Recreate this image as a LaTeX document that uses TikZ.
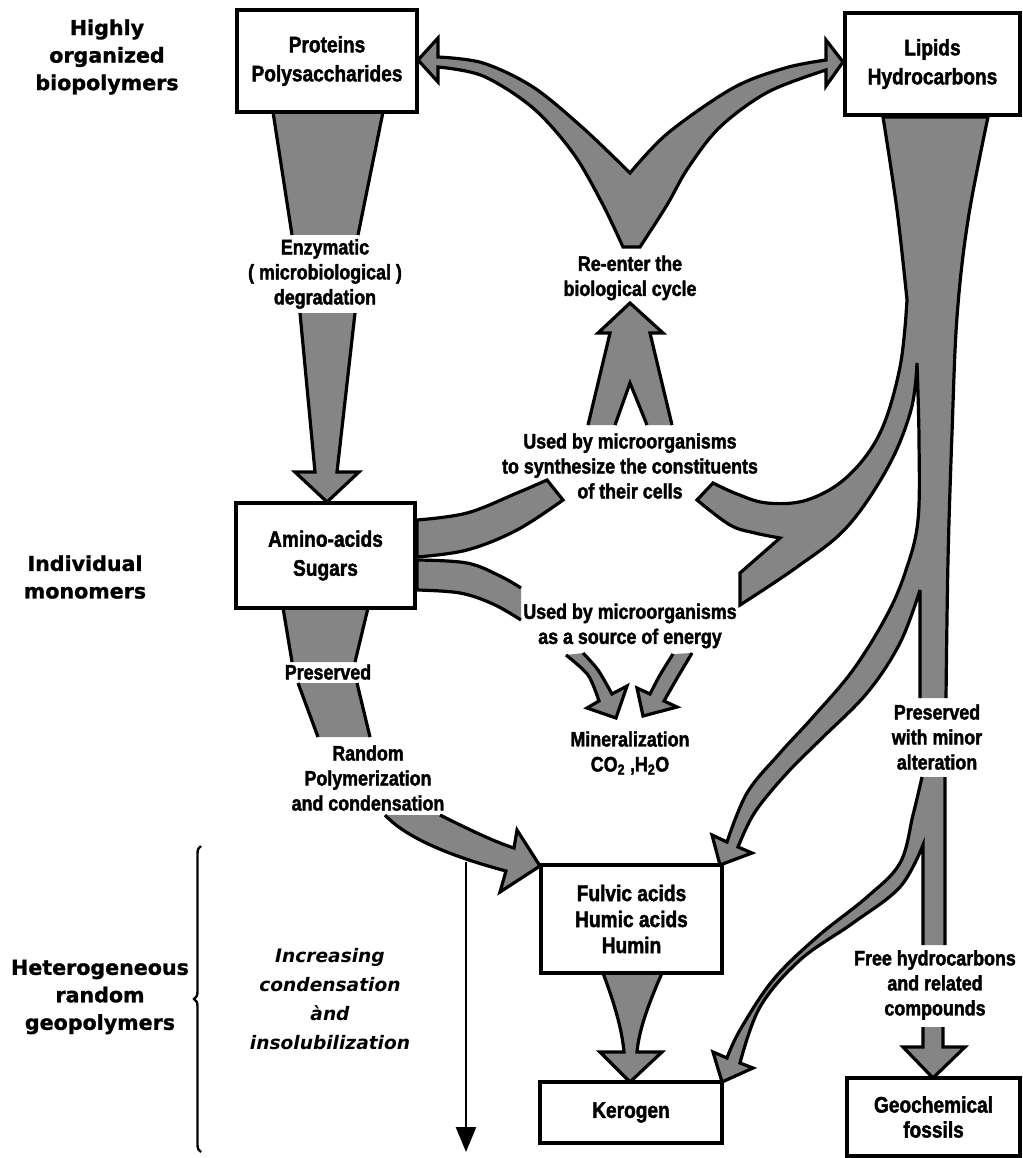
\documentclass[tikz,border=0pt]{standalone}
\usepackage{fontspec}
\setmainfont{Liberation Sans}
\newfontfamily\condf{Liberation Sans Bold}[FakeStretch=0.85, FakeBold=1.8]
\newfontfamily\widef{DejaVu Sans Bold}[FakeBold=1.2]
\newfontfamily\italf{DejaVu Sans Bold Oblique}
\usetikzlibrary{decorations.pathreplacing,arrows.meta}
\tikzset{
 bandfill/.style={fill=black!48},
 bandline/.style={draw=black, line width=3.2pt, line join=miter, miter limit=6},
 band/.style={bandfill, bandline},
 box/.style={draw=black, line width=4.5pt, fill=white, align=center, inner sep=0pt,
   font=\condf\fontsize{22.5}{29}\selectfont},
 lab/.style={align=center, inner sep=0pt, font=\condf\fontsize{21}{25}\selectfont},
 head/.style={align=center, inner sep=0pt, font=\widef\fontsize{20.6}{27.5}\selectfont},
 ital/.style={align=center, inner sep=0pt, font=\italf\fontsize{18.6}{29}\selectfont},
}
\begin{document}
\begin{tikzpicture}[x=1pt,y=-1pt]
\useasboundingbox (0,0) rectangle (1022,1158);
\fill[white] (0,0) rectangle (1022,1158);

% Proteins -> Amino-acids
\draw[band] (292,235) -- (273,112) -- (383,112) -- (358,235);
\draw[band] (300,313) -- (315,472) -- (295,472) -- (327,502) -- (359,472) -- (337,472) -- (355,313);

% Re-enter the biological cycle (V double arrow)
\draw[band] plot[smooth,tension=0.55] coordinates {(623,247)(602,203)(573,153)(533,108)(483,76)(438,67)}
  -- (438,82) -- (418,60) -- (438,38)
  -- plot[smooth,tension=0.55] coordinates {(438,57)(483,63)(533,87)(583,128)(630,173)}
  -- plot[smooth,tension=0.55] coordinates {(630,173)(668,133)(733,88)(785,68)(826,60)}
  -- (826,40) -- (843,62) -- (826,86)
  -- plot[smooth,tension=0.55] coordinates {(826,70)(768,92)(720,127)(688,168)(667,205)(640,247)} -- cycle;

% upward arrow to Re-enter
\fill[bandfill] (588,425) -- (610,333) -- (598,333) -- (630,303) -- (663,333) -- (650,333) -- (672,425)
  -- (647,425) -- (630,383) -- (615,425) -- cycle;
\draw[bandline] (588,425) -- (610,333) -- (598,333) -- (630,303) -- (663,333) -- (650,333) -- (672,425)
  (647,425) -- (630,383) -- (615,425);

% Amino-acids upper band (synthesize)
\draw[band] plot[smooth,tension=0.6] coordinates {(417,520)(467,513)(517,493)(547,480)} -- (563,500)
  -- plot[smooth,tension=0.6] coordinates {(563,500)(517,530)(467,550)(417,557)} -- cycle;
% Amino-acids lower band (energy)
\draw[band] (521,620) -- plot[smooth,tension=0.6] coordinates {(521,620)(493,604)(460,593)(417,590)}
  -- plot[smooth,tension=0.6] coordinates {(417,560)(467,563)(500,576)(521,588)};

% Mineralization arrows
\draw[band] plot[smooth] coordinates {(566,655)(588,675)(599,701)} -- (587,708) -- (616,718) -- (627,686) -- (612,694)
  -- plot[smooth] coordinates {(612,694)(598,670)(583,653)};
\draw[band] plot[smooth] coordinates {(692,653)(676,680)(664,701)} -- (677,707) -- (643,716) -- (637,688) -- (650,694)
  -- plot[smooth] coordinates {(650,694)(660,675)(673,654)};

% Preserved (amino-acids downward)
\draw[band] (292,662) -- (283,608) -- (368,608) -- (355,662);
\fill[bandfill] (298,683) -- (357,683) -- (370,737) -- (318,737) -- cycle;
\draw[bandline] (298,683) -- (318,737) (357,683) -- (370,737);

% Random polymerization -> Fulvic
\draw[band] (440,815) .. controls (470,830) and (495,842) .. (514,848) -- (517,830) -- (540,866) -- (500,892)
  -- (506,871) .. controls (465,860) and (410,842) .. (385,815);

% Fulvic -> Kerogen
\draw[band] (603,973) .. controls (615,1005) and (622,1030) .. (624,1052) -- (600,1052) -- (630,1082)
  -- (662,1052) -- (637,1052) .. controls (639,1030) and (648,1005) .. (662,973);

% Lipids trunk and branches (upper)
\draw[band] (920,698) -- (920,590)
  -- plot[smooth,tension=0.6] coordinates {(920,590)(900,643)(867,693)(820,740)(787,773)(755,812)(738,847)}
  -- (752,853) -- (720,865) -- (712,835) -- (727,842)
  -- plot[smooth,tension=0.6] coordinates {(727,842)(747,793)(780,753)(813,717)(853,670)(887,615)(906,570)(918,520)(919,440)(917,363)}
  -- plot[smooth,tension=0.6] coordinates {(917,363)(911,410)(888,467)(847,527)(797,567)(740,605)}
  -- (740,573) -- (780,538)
  -- plot[smooth,tension=0.6] coordinates {(780,538)(755,533)(730,525)(697,500)}
  -- (713,483)
  -- plot[smooth,tension=0.6] coordinates {(713,483)(737,494)(767,503)(807,500)(847,477)(880,433)(900,367)(907,300)}
  -- plot[smooth,tension=0.6] coordinates {(907,300)(897,210)(883,117)}
  -- (988,117)
  -- plot[smooth,tension=0.6] coordinates {(988,117)(968,220)(957,317)(952,433)(948,560)(946,698)};

% Lipids lower trunk and Kerogen branch
\fill[bandfill] (922,777) -- (945,777) -- (945,945) -- (923,945) -- (923,845)
  -- plot[smooth,tension=0.6] coordinates {(923,845)(900,887)(853,923)(800,960)(760,1007)(740,1063)}
  -- (753,1068) -- (722,1082) -- (713,1052) -- (727,1058)
  -- plot[smooth,tension=0.6] coordinates {(727,1058)(740,1030)(773,980)(817,937)(867,897)(900,863)(913,815)(922,777)} -- cycle;
\draw[bandline] (945,777) -- (945,945) (923,945) -- (923,845)
  -- plot[smooth,tension=0.6] coordinates {(923,845)(900,887)(853,923)(800,960)(760,1007)(740,1063)}
  -- (753,1068) -- (722,1082) -- (713,1052) -- (727,1058)
  -- plot[smooth,tension=0.6] coordinates {(727,1058)(740,1030)(773,980)(817,937)(867,897)(900,863)(913,815)(922,777)};

% Free hydrocarbons -> Geochemical fossils
\draw[band] (923,1027) -- (923,1047) -- (903,1047) -- (933,1078) -- (965,1047) -- (943,1047) -- (943,1027);

% Boxes
\node[box, minimum width=180, minimum height=102] (prot) at (327,61) {Proteins\\Polysaccharides};
\node[box, minimum width=175, minimum height=102] (lip) at (932.5,64) {Lipids\\Hydrocarbons};
\node[box, minimum width=179, minimum height=105] (amino) at (325.5,555.5) {Amino-acids\\Sugars};
\node[box, minimum width=181, minimum height=108, font=\condf\fontsize{22.5}{26}\selectfont] (fulvic) at (631.5,919) {Fulvic acids\\Humic acids\\Humin};
\node[box, minimum width=182, minimum height=61] (kerogen) at (631,1112.5) {Kerogen};
\node[box, minimum width=173, minimum height=78, font=\condf\fontsize{22.5}{25}\selectfont] (geo) at (933.5,1117) {Geochemical\\fossils};

% Level headings
\node[head] (h1) at (107,57) {Highly\\organized\\biopolymers};
\node[head] (h2) at (85,577) {Individual\\monomers};
\node[head] (h3) at (100,997) {Heterogeneous\\random\\geopolymers};

% Labels
\node[lab] (enz) at (325,274) {Enzymatic\\( microbiological )\\degradation};
\node[lab] (reent) at (630,278) {Re-enter the\\biological cycle};
\node[lab] (synth) at (630,466) {Used by microorganisms\\to synthesize the constituents\\of their cells};
\node[lab] (energy) at (630,626) {Used by microorganisms\\as a source of energy};
\node[lab] (pres) at (328,672) {Preserved};
\node[lab] (rand) at (368,778) {Random\\Polymerization\\and condensation};
\node[lab] (mineral) at (630,753) {Mineralization\\CO\textsubscript{2} ,H\textsubscript{2}O};
\node[lab] (presmin) at (937,737) {Preserved\\with minor\\alteration};
\node[lab] (free) at (935,985) {Free hydrocarbons\\and related\\compounds};
\node[ital] (incr) at (330,999) {Increasing\\condensation\\ànd\\insolubilization};

% Brace and increasing arrow
\draw[line width=2.4pt, decorate, decoration={brace, amplitude=7pt}] (201,1152) -- (201,846);
\coordinate (va) at (466,862);
\coordinate (vb) at (466,1152);
\draw[line width=2.6pt, -{Triangle[length=25pt,width=20pt]}] (va) -- (vb);
\end{tikzpicture}
\end{document}
